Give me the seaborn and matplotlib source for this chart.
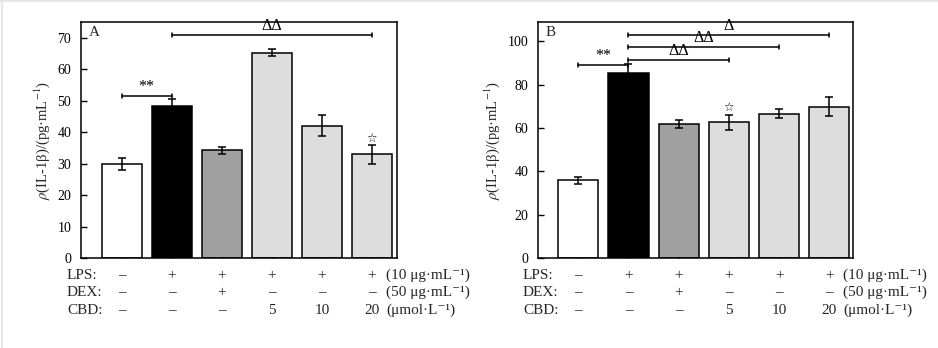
import matplotlib
matplotlib.use("Agg")
import matplotlib.pyplot as plt
import matplotlib.transforms as mtransforms
import seaborn as sns
import pandas as pd

# ---------------- data ----------------
groups = ["Control", "LPS", "LPS+DEX", "CBD5", "CBD10", "CBD20"]
bar_colors = ["#ffffff", "#000000", "#a0a0a0", "#dcdddc", "#dcdddc", "#dcdddc"]

values_a = [29.8, 48.3, 34.2, 65.3, 42.1, 32.9]
errors_a = [1.9, 2.2, 1.2, 1.1, 3.4, 3.0]
values_b = [35.9, 85.6, 62.0, 62.6, 66.7, 69.9]
errors_b = [1.7, 4.0, 1.8, 3.6, 2.0, 4.4]

# brackets: (start group, end group, height, label)
brackets_a = [(0, 1, 51.6, "**"), (1, 5, 71.0, "ΔΔ")]
brackets_b = [(0, 1, 89.3, "**"), (1, 3, 91.6, "ΔΔ"), (1, 4, 97.4, "ΔΔ"), (1, 5, 103.1, "Δ")]
star_a = [5]
star_b = [3]

yticks_a = [0, 10, 20, 30, 40, 50, 60, 70]
yticks_b = [0, 20, 40, 60, 80, 100]
ylim_a = (0, 75)
ylim_b = (0, 109)

row_labels = ["LPS:", "DEX:", "CBD:"]
row_lps = ["–", "+", "+", "+", "+", "+"]
row_dex = ["–", "–", "+", "–", "–", "–"]
row_cbd = ["–", "–", "–", "5", "10", "20"]
row_units = ["(10 μg·mL⁻¹)", "(50 μg·mL⁻¹)", "(μmol·L⁻¹)"]
ylabel = r"$\rho$(IL-1β)/(pg·mL$^{-1}$)"

# ---------------- style ----------------
sns.set_theme(style="ticks")
plt.rcParams["font.family"] = ["Liberation Serif", "DejaVu Serif", "DejaVu Sans"]
plt.rcParams["mathtext.fontset"] = "stix"

fig = plt.figure(figsize=(9.38, 3.48), dpi=100)
fig.patch.set_facecolor("white")

ax_a = fig.add_axes([81 / 938, 90 / 348, 316 / 938, 236 / 348])
ax_b = fig.add_axes([538 / 938, 90 / 348, 315 / 938, 236 / 348])


def draw_panel(ax, values, errors, brackets, stars, yticks, ylim, xlim, letter,
               lab_x, unit_x, cap_h):
    df = pd.DataFrame({"group": groups, "value": values})
    sns.barplot(data=df, x="group", y="value", hue="group", palette=bar_colors,
                edgecolor="black", linewidth=1.1, width=0.8, legend=False,
                saturation=1, ax=ax, errorbar=None)
    xs = list(range(len(groups)))
    ax.errorbar(xs, values, yerr=errors, fmt="none", ecolor="black",
                elinewidth=1.1, capsize=3, capthick=1.1, zorder=5)
    ax.set_xlim(*xlim)
    ax.set_ylim(*ylim)
    ax.set_yticks(yticks)
    ax.set_xticks(xs)
    ax.set_xticklabels([])
    ax.set_xlabel("")
    ax.set_ylabel(ylabel, fontsize=10.5, labelpad=4)
    ax.tick_params(axis="both", direction="in", length=4, width=1, colors="black",
                   labelsize=10)
    ax.tick_params(axis="y", pad=7)
    for s in ax.spines.values():
        s.set_visible(True)
        s.set_linewidth(1.1)
        s.set_color("black")
    ax.set_facecolor("white")
    ax.grid(False)

    # significance brackets
    for g1, g2, h, lab in brackets:
        ax.plot([g1, g2], [h, h], color="black", lw=1.1, zorder=6)
        ax.plot([g1, g1], [h - cap_h, h + cap_h], color="black", lw=1.1, zorder=6)
        ax.plot([g2, g2], [h - cap_h, h + cap_h], color="black", lw=1.1, zorder=6)
        ax.text((g1 + g2) / 2, h + cap_h * 0.4, lab, ha="center", va="bottom",
                fontsize=11.5, color="black", zorder=7)
    for g in stars:
        ax.text(g, values[g] + errors[g] + cap_h * 0.3, "☆", ha="center", va="bottom",
                fontsize=8.5, family=["DejaVu Sans"], color="black", zorder=7)

    ax.text(0.025, 0.985, letter, transform=ax.transAxes, ha="left", va="top",
            fontsize=11)

    # condition table below axis
    trans = mtransforms.blended_transform_factory(ax.transData, ax.transAxes)
    row_ys = [-0.075, -0.146, -0.222]
    rows = [row_lps, row_dex, row_cbd]
    for ry, lab, row, unit in zip(row_ys, row_labels, rows, row_units):
        ax.text(lab_x, ry, lab, transform=trans, ha="left", va="center",
                fontsize=11, clip_on=False)
        for x, v in zip(xs, row):
            ax.text(x, ry, v, transform=trans, ha="center", va="center",
                    fontsize=11, clip_on=False)
        ax.text(unit_x, ry, unit, transform=trans, ha="left", va="center",
                fontsize=11, clip_on=False)


draw_panel(ax_a, values_a, errors_a, brackets_a, star_a, yticks_a, ylim_a,
           (-0.81, 5.5), "A", -1.09, 5.28, 0.65)
draw_panel(ax_b, values_b, errors_b, brackets_b, star_b, yticks_b, ylim_b,
           (-0.8, 5.47), "B", -1.1, 5.27, 0.95)

# faint page border (top and left) as in reference
fig.add_artist(plt.Line2D([0, 1], [0.997, 0.997], transform=fig.transFigure,
                          color="#e6e6e6", lw=1.5))
fig.add_artist(plt.Line2D([0.002, 0.002], [0, 1], transform=fig.transFigure,
                          color="#e6e6e6", lw=1.5))

fig.savefig("out.png", dpi=100, facecolor="white")
